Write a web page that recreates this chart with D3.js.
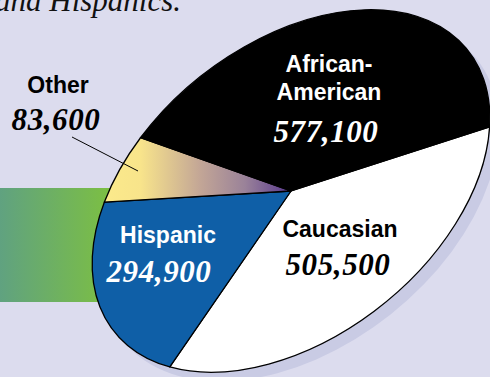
<!DOCTYPE html>
<html>
<head>
  <script src="https://d3js.org/d3.v7.min.js"></script>
  <style>
    * { margin: 0; box-sizing: border-box; }
    body { background: #dcdcee; }
    .lbl { font: bold 23px "Liberation Sans", Arial, sans-serif; text-anchor: middle; }
    .num { font: italic bold 31px "Liberation Serif", "Times New Roman", serif; text-anchor: middle; letter-spacing: 0.6px; }
  </style>
</head>
<body>
  <script>
    // data, in drawing order (clockwise from the Caucasian slice)
    const groups = ["Caucasian", "Hispanic", "Other", "African-American"];
    const counts = [505500, 294900, 83600, 577100];
    const labelLines = [["Caucasian"], ["Hispanic"], ["Other"], ["African-", "American"]];

    const width = 490, height = 377;
    const cx = 291, cy = 191;
    const rx = 226, ry = 146, tilt = -38.5;       // tilted ellipse
    const start = 120.2 * Math.PI / 180;

    const fills = {
      "Caucasian": "#ffffff",
      "Hispanic": "#0f5fa7",
      "Other": "url(#otherGrad)",
      "African-American": "#000000"
    };
    const textColor = {
      "Caucasian": "#000", "Hispanic": "#fff", "Other": "#000", "African-American": "#fff"
    };
    // hand placed label anchors (label baseline, number baseline)
    const labelPos = {
      "Caucasian": { x: 340, y: 237, nx: 338, ny: 275 },
      "Hispanic": { x: 168, y: 243, nx: 159, ny: 282 },
      "Other": { x: 58, y: 93, nx: 56, ny: 130 },
      "African-American": { x: 329, y: 72, nx: 326, ny: 142 }
    };

    const svg = d3.select("body").append("svg")
      .attr("width", width)
      .attr("height", height);

    const defs = svg.append("defs");
    const greenGrad = defs.append("linearGradient").attr("id", "greenGrad")
      .attr("gradientUnits", "userSpaceOnUse")
      .attr("x1", 0).attr("x2", 110).attr("y1", 0).attr("y2", 0);
    greenGrad.append("stop").attr("offset", 0).attr("stop-color", "#60a280");
    greenGrad.append("stop").attr("offset", 1).attr("stop-color", "#7cbf43");

    // gradient given in screen space, mapped back through the ellipse transform
    const otherGrad = defs.append("linearGradient").attr("id", "otherGrad")
      .attr("gradientUnits", "userSpaceOnUse")
      .attr("gradientTransform", `scale(1,${rx / ry}) rotate(${-tilt}) translate(${-cx},${-cy})`)
      .attr("x1", 110).attr("y1", 0).attr("x2", 290).attr("y2", 0);
    [[0, "#fbe98b"], [0.17, "#f8e48b"], [0.5, "#c3a696"], [0.75, "#9a8299"], [1, "#5a3a8e"]]
      .forEach(s => otherGrad.append("stop").attr("offset", s[0]).attr("stop-color", s[1]));

    // title fragment at the top
    svg.append("text")
      .attr("x", -5).attr("y", 11)
      .style("font", "italic 31px 'Liberation Serif', 'Times New Roman', serif")
      .attr("fill", "#111")
      .text("and Hispanics.");

    // green band behind the pie
    svg.append("rect")
      .attr("x", 0).attr("y", 188)
      .attr("width", 200).attr("height", 114)
      .attr("fill", "url(#greenGrad)");

    const ellT = (dx, dy) => `translate(${cx + dx},${cy + dy}) rotate(${tilt}) scale(1,${ry / rx})`;

    // shadow
    svg.append("circle")
      .attr("r", rx)
      .attr("transform", ellT(9, 9))
      .attr("fill", "#c9cbe4");

    const pie = d3.pie().sort(null).startAngle(start).endAngle(start + 2 * Math.PI);
    const arcs = pie(counts);
    const arc = d3.arc().innerRadius(0).outerRadius(rx);

    svg.append("g")
      .attr("transform", ellT(0, 0))
      .selectAll("path")
      .data(arcs)
      .join("path")
      .attr("d", arc)
      .attr("fill", (d, i) => fills[groups[i]])
      .attr("stroke", "#000")
      .attr("stroke-width", 1.3)
      .attr("stroke-linejoin", "round")
      .attr("vector-effect", "non-scaling-stroke");

    // leader line for the small slice
    svg.append("line")
      .attr("x1", 72).attr("y1", 137)
      .attr("x2", 138).attr("y2", 171)
      .attr("stroke", "#000").attr("stroke-width", 1);

    const fmt = d3.format(",");
    groups.forEach((g, i) => {
      const p = labelPos[g];
      const t = svg.append("text").attr("class", "lbl").attr("fill", textColor[g]);
      labelLines[i].forEach((line, j) => {
        t.append("tspan").attr("x", p.x).attr("y", p.y + j * 28).text(line);
      });
      svg.append("text").attr("class", "num")
        .attr("x", p.nx).attr("y", p.ny)
        .attr("fill", textColor[g])
        .text(fmt(counts[i]));
    });
  </script>
</body>
</html>
